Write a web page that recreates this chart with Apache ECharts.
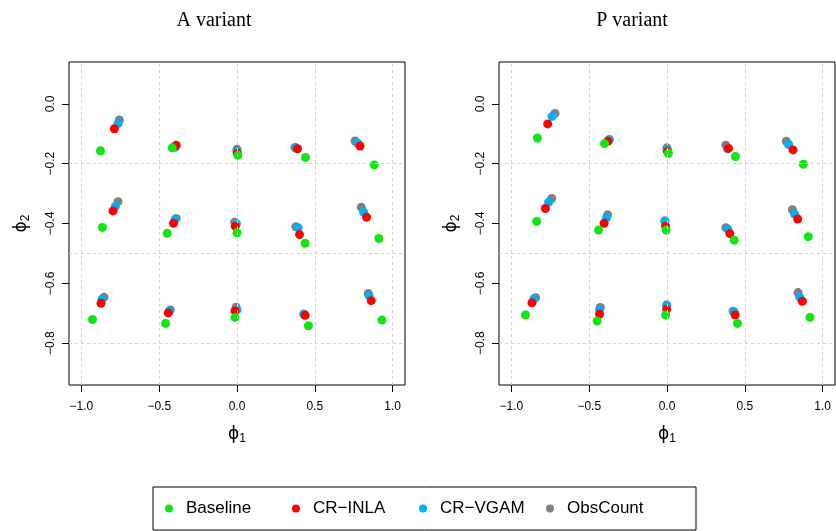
<!DOCTYPE html>
<html>
<head>
<meta charset="utf-8">
<script src="https://cdn.jsdelivr.net/npm/echarts@6/dist/echarts.min.js"></script>
<style>
  html, body { margin: 0; padding: 0; background: #fff; }
  #chart { width: 836px; height: 531px; }
</style>
</head>
<body>
<div id="chart"></div>
<script>
// tick values and reference lines
var xTicks = [-1, -0.5, 0, 0.5, 1];
var yTicks = [0, -0.2, -0.4, -0.6, -0.8];
var xGridLines = [-1, -0.5, 0, 0.5, 1];
var yGridLines = [-0.2, -0.5, -0.8];

var panelTitles = ['A variant', 'P variant'];
var methods = ['Baseline', 'CR\u2212INLA', 'CR\u2212VGAM', 'ObsCount'];
var methodColors = ['#11e611', '#ff0000', '#00b0ee', '#808080'];

// A variant: [phi1, phi2]
var aBaseline = [[-0.878,-0.157],[-0.417,-0.147],[0.006,-0.172],[0.440,-0.179],[0.882,-0.204],
                 [-0.865,-0.413],[-0.449,-0.433],[0.000,-0.431],[0.438,-0.466],[0.912,-0.450],
                 [-0.929,-0.721],[-0.459,-0.734],[-0.013,-0.714],[0.459,-0.742],[0.932,-0.723]];
var aInla = [[-0.788,-0.083],[-0.391,-0.138],[0.002,-0.165],[0.389,-0.150],[0.791,-0.141],
             [-0.797,-0.358],[-0.408,-0.399],[-0.011,-0.409],[0.402,-0.437],[0.833,-0.379],
             [-0.874,-0.667],[-0.442,-0.699],[-0.013,-0.692],[0.438,-0.707],[0.863,-0.658]];
var aVgam = [[-0.765,-0.066],[-0.397,-0.145],[0.000,-0.159],[0.378,-0.147],[0.774,-0.131],
             [-0.782,-0.343],[-0.397,-0.386],[-0.004,-0.401],[0.393,-0.414],[0.814,-0.362],
             [-0.868,-0.653],[-0.434,-0.692],[0.000,-0.689],[0.432,-0.704],[0.850,-0.642]];
var aObs = [[-0.756,-0.054],[-0.400,-0.143],[0.000,-0.152],[0.372,-0.146],[0.759,-0.124],
            [-0.765,-0.327],[-0.391,-0.383],[-0.015,-0.396],[0.378,-0.411],[0.799,-0.346],
            [-0.855,-0.647],[-0.429,-0.689],[-0.006,-0.680],[0.429,-0.703],[0.844,-0.634]];

// P variant
var pBaseline = [[-0.833,-0.114],[-0.402,-0.133],[0.009,-0.165],[0.440,-0.176],[0.876,-0.202],
                 [-0.838,-0.393],[-0.440,-0.422],[-0.006,-0.422],[0.432,-0.456],[0.908,-0.444],
                 [-0.910,-0.706],[-0.449,-0.726],[-0.009,-0.706],[0.453,-0.734],[0.919,-0.714]];
var pInla = [[-0.767,-0.067],[-0.380,-0.125],[0.004,-0.160],[0.395,-0.149],[0.810,-0.154],
             [-0.782,-0.350],[-0.404,-0.399],[-0.009,-0.409],[0.404,-0.434],[0.840,-0.385],
             [-0.868,-0.665],[-0.434,-0.703],[-0.002,-0.687],[0.438,-0.706],[0.870,-0.660]];
var pVgam = [[-0.739,-0.042],[-0.375,-0.122],[0.000,-0.154],[0.389,-0.150],[0.782,-0.136],
             [-0.761,-0.329],[-0.389,-0.381],[-0.013,-0.393],[0.391,-0.419],[0.821,-0.369],
             [-0.855,-0.652],[-0.434,-0.689],[-0.002,-0.675],[0.432,-0.696],[0.853,-0.646]];
var pObs = [[-0.720,-0.032],[-0.370,-0.119],[0.000,-0.147],[0.378,-0.138],[0.767,-0.125],
            [-0.741,-0.316],[-0.382,-0.371],[-0.013,-0.391],[0.378,-0.414],[0.806,-0.354],
            [-0.844,-0.648],[-0.429,-0.681],[-0.002,-0.672],[0.425,-0.693],[0.842,-0.631]];

var panelData = [
    [aBaseline, aInla, aVgam, aObs],
    [pBaseline, pInla, pVgam, pObs]
];

function fmt(v) {
    return v.toFixed(1).replace('-', '\u2212');
}

var myChart = echarts.init(document.getElementById('chart'));

var grids = [], xAxes = [], yAxes = [], titles = [], series = [];
var gridLefts = [69, 499];

for (var p = 0; p < 2; p++) {
    grids.push({
        left: gridLefts[p], top: 62, width: 336, height: 323,
        show: true, borderColor: '#000', borderWidth: 1
    });
    titles.push({
        text: panelTitles[p],
        left: 209 + p * 418, top: 6, textAlign: 'center',
        textStyle: { fontFamily: 'Liberation Serif', fontSize: 20, fontWeight: 'normal', color: '#000' }
    });
    xAxes.push({
        type: 'value', gridIndex: p, min: -1.08, max: 1.08,
        name: '{a|\u03d5}{b|1}', nameLocation: 'middle', nameGap: 40,
        nameTextStyle: {
            rich: {
                a: { fontSize: 17, fontFamily: 'DejaVu Sans', color: '#000' },
                b: { fontSize: 12, fontFamily: 'Liberation Sans', color: '#000', padding: [8, 0, 0, 0] }
            }
        },
        splitLine: { show: false },
        axisLine: { show: false, onZero: false },
        axisTick: { show: true, length: 7, customValues: xTicks, lineStyle: { color: '#000' } },
        axisLabel: {
            customValues: xTicks, margin: 16, formatter: fmt,
            fontFamily: 'Liberation Sans', fontSize: 12, color: '#000'
        }
    });
    yAxes.push({
        type: 'value', gridIndex: p, min: -0.94, max: 0.14,
        name: '{a|\u03d5}{b|2}', nameLocation: 'middle', nameGap: 37,
        nameTextStyle: {
            rich: {
                a: { fontSize: 17, fontFamily: 'DejaVu Sans', color: '#000' },
                b: { fontSize: 12, fontFamily: 'Liberation Sans', color: '#000', padding: [8, 0, 0, 0] }
            }
        },
        splitLine: { show: false },
        axisLine: { show: false, onZero: false },
        axisTick: { show: true, length: 7, customValues: yTicks, lineStyle: { color: '#000' } },
        axisLabel: {
            customValues: yTicks, margin: 12, rotate: 90, formatter: fmt,
            fontFamily: 'Liberation Sans', fontSize: 12, color: '#000'
        }
    });

    // draw order: ObsCount, CR-VGAM, CR-INLA, Baseline (baseline on top)
    for (var m = 3; m >= 0; m--) {
        var s = {
            name: methods[m],
            type: 'scatter',
            xAxisIndex: p, yAxisIndex: p,
            symbol: 'circle', symbolSize: 9,
            itemStyle: { color: methodColors[m], opacity: 1 },
            data: panelData[p][m]
        };
        if (m === 0) {
            s.markLine = {
                silent: true,
                symbol: ['none', 'none'],
                label: { show: false },
                lineStyle: { color: '#d3d3d3', type: [3, 3], width: 1 },
                data: xGridLines.map(function (v) { return { xAxis: v }; })
                    .concat(yGridLines.map(function (v) { return { yAxis: v }; }))
            };
        }
        series.push(s);
    }
}

var option = {
    animation: false,
    backgroundColor: '#fff',
    title: titles,
    grid: grids,
    xAxis: xAxes,
    yAxis: yAxes,
    legend: {
        data: methods,
        left: 153, top: 487,
        orient: 'horizontal',
        icon: 'circle',
        itemWidth: 24, itemHeight: 8, itemGap: 7,
        padding: [13, 30, 13, 12],
        borderColor: '#000', borderWidth: 1,
        selectedMode: false,
        textStyle: { fontFamily: 'Liberation Sans', fontSize: 17, color: '#000', width: 99, lineHeight: 16 }
    },
    series: series
};
myChart.setOption(option);
</script>
</body>
</html>
